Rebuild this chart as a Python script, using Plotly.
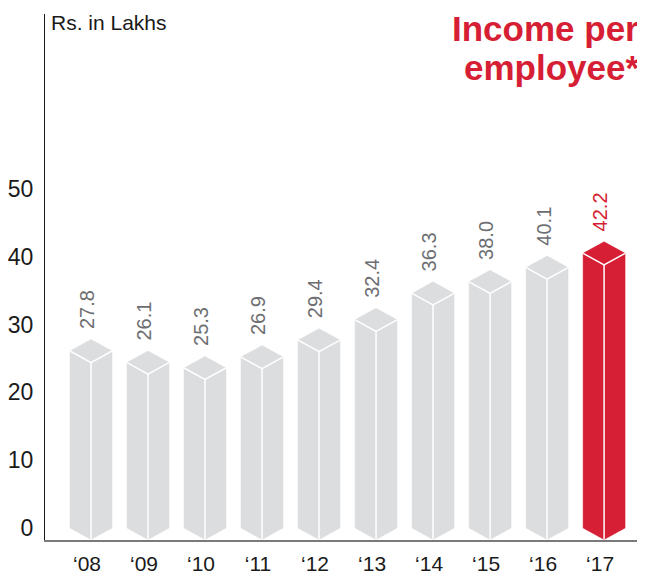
import plotly.graph_objects as go

years = ["‘08", "‘09", "‘10", "‘11", "‘12", "‘13", "‘14", "‘15", "‘16", "‘17"]
values = [27.8, 26.1, 25.3, 26.9, 29.4, 32.4, 36.3, 38.0, 40.1, 42.2]
value_labels = ["27.8", "26.1", "25.3", "26.9", "29.4", "32.4", "36.3", "38.0", "40.1", "42.2"]
y_ticks = [0, 10, 20, 30, 40, 50]

GRAY = "#dcdddf"
RED = "#d61f34"
LABEL_GRAY = "#6d6e71"
FONT = "Liberation Sans, Arial, sans-serif"

# page body has an 8px margin; size figure so it fills the 645x575 window
OFF = 8
W, H = 645 - OFF, 575 - OFF
L, R, T, B = 37, 5, 6, 35
plot_w = W - L - R
plot_h = H - T - B

half_w = 0.368     # half bar width in category units
d = 1.7            # isometric top offset in value units

fig = go.Figure()

for i, (v, lab) in enumerate(zip(values, value_labels)):
    color = RED if i == len(values) - 1 else GRAY
    xs = [i - half_w, i - half_w, i, i + half_w, i + half_w, i, i - half_w]
    ys = [0, v - d, v, v - d, 0, -d, 0]
    fig.add_trace(go.Scatter(x=xs, y=ys, mode="lines", fill="toself",
                             fillcolor=color, line=dict(color=color, width=0.5),
                             hoverinfo="skip", showlegend=False))
    # white inner edges
    ex = [i - half_w, i, i + half_w, None, i, i]
    ey = [v - d, v - 2 * d, v - d, None, v - 2 * d, -d]
    fig.add_trace(go.Scatter(x=ex, y=ey, mode="lines",
                             line=dict(color="white", width=1.5),
                             hoverinfo="skip", showlegend=False, connectgaps=False))
    fig.add_annotation(x=i, y=v, xref="x", yref="y", text=lab, showarrow=False,
                       textangle=-90, yanchor="bottom", xanchor="center", yshift=8,
                       xshift=-4,
                       font=dict(family=FONT, size=20,
                                 color=RED if i == len(values) - 1 else LABEL_GRAY))


def px_x(p):
    return (p - OFF - L) / plot_w


def px_y(p):
    return (H + OFF - B - p) / plot_h


fig.add_annotation(x=px_x(49), y=px_y(23), xref="paper", yref="paper",
                   text="Rs. in Lakhs", showarrow=False, xanchor="left", yanchor="middle",
                   font=dict(family=FONT, size=21, color="#1a1a1a"))
fig.add_annotation(x=px_x(641), y=px_y(29), xref="paper", yref="paper",
                   text="<b>Income per</b>", showarrow=False, xanchor="right", yanchor="middle",
                   font=dict(family=FONT, size=35, color=RED))
fig.add_annotation(x=px_x(641), y=px_y(68), xref="paper", yref="paper",
                   text="<b>employee*</b>", showarrow=False, xanchor="right", yanchor="middle",
                   font=dict(family=FONT, size=35, color=RED))

fig.update_layout(
    width=W, height=H,
    margin=dict(l=L, r=R, t=T, b=B, autoexpand=False),
    plot_bgcolor="white", paper_bgcolor="white",
    font=dict(family=FONT, color="#1a1a1a"),
    xaxis=dict(range=[-0.807, 9.63], tickmode="array", tickvals=list(range(len(years))),
               ticktext=years, showgrid=False, zeroline=False, showline=True,
               linecolor="#7a7a7a", linewidth=1.5, ticks="", tickfont=dict(size=21),
               ticklabelstandoff=4, ticklabelshift=-4, automargin=False, fixedrange=True),
    yaxis=dict(range=[-1.77, 75.8], tickmode="array", tickvals=y_ticks,
               ticktext=[str(t) for t in y_ticks], showgrid=False, zeroline=False,
               showline=True, linecolor="#1a1a1a", linewidth=1.2, ticks="",
               tickfont=dict(size=23), ticklabelstandoff=6, automargin=False,
               fixedrange=True),
)

fig.write_html("out.html")
